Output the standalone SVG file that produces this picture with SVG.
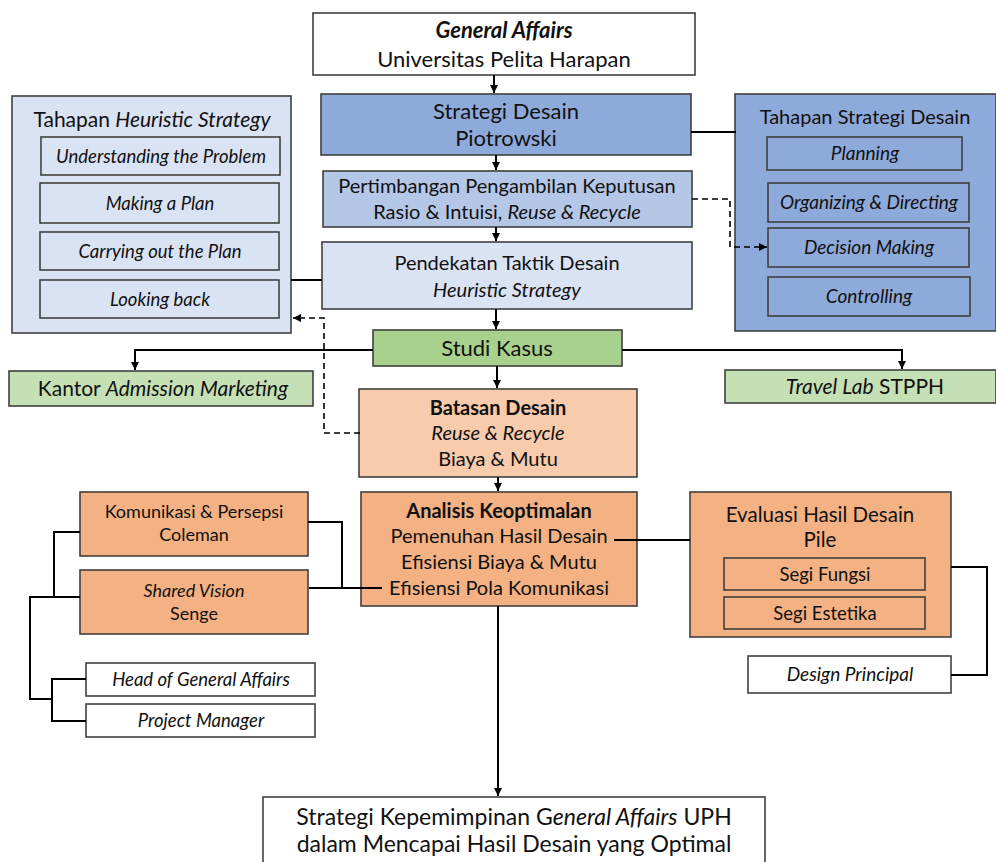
<svg xmlns="http://www.w3.org/2000/svg" width="996" height="862" viewBox="0 0 996 862">
<defs>
<marker id="ah" viewBox="0 0 8 8" refX="8" refY="4" markerWidth="8" markerHeight="8" markerUnits="userSpaceOnUse" orient="auto">
<path d="M0,0 L8,4 L0,8 Z" fill="#000"/>
</marker>
<style>
rect{stroke:#404040;stroke-width:1.6}
text{font-family:Lato,"Open Sans","Liberation Sans",sans-serif;fill:#111;text-anchor:middle}
.i{font-style:italic}.b{font-weight:bold}
.w{fill:#fff}.b1{fill:#8eaadb}.b2{fill:#b4c7e7}.b3{fill:#dae3f3}.g1{fill:#a9d18e}.g2{fill:#c5e0b4}.o1{fill:#f8cbad}.o2{fill:#f4b183}
.ln{fill:none;stroke:#000;stroke-width:2}
.ds{fill:none;stroke:#000;stroke-width:1.6;stroke-dasharray:6,4}
</style>
</defs>

<g id="general-affairs">
<rect class="w" x="313" y="13" width="382" height="62"/>
<text class="i b" font-size="22" x="504" y="38">General Affairs</text>
<text font-size="22" x="504" y="67">Universitas Pelita Harapan</text>
</g>

<g id="strategi-desain">
<rect class="b1" x="321" y="94" width="370" height="61"/>
<text font-size="22" x="506" y="119">Strategi Desain</text>
<text font-size="22" x="506" y="146">Piotrowski</text>
</g>

<g id="pertimbangan">
<rect class="b2" x="323" y="171" width="369" height="56"/>
<text font-size="20" x="507" y="193">Pertimbangan Pengambilan Keputusan</text>
<text font-size="20" x="507" y="219">Rasio &amp; Intuisi, <tspan class="i">Reuse &amp; Recycle</tspan></text>
</g>

<g id="pendekatan">
<rect class="b3" x="322" y="242" width="370" height="67"/>
<text font-size="20" x="507" y="270">Pendekatan Taktik Desain</text>
<text font-size="20" class="i" x="507" y="297">Heuristic Strategy</text>
</g>

<g id="tahapan-heuristic">
<rect class="b3" x="12" y="96" width="279" height="237"/>
<text font-size="21" x="152" y="127">Tahapan <tspan class="i">Heuristic Strategy</tspan></text>
<rect class="b3" x="41" y="137" width="239" height="38"/>
<text font-size="18.5" class="i" x="161" y="163">Understanding the Problem</text>
<rect class="b3" x="40" y="183" width="239" height="40"/>
<text font-size="18.5" class="i" x="160" y="210">Making a Plan</text>
<rect class="b3" x="40" y="232" width="239" height="38"/>
<text font-size="18.5" class="i" x="160" y="258">Carrying out the Plan</text>
<rect class="b3" x="40" y="280" width="239" height="38"/>
<text font-size="18.5" class="i" x="160" y="306">Looking back</text>
</g>

<g id="tahapan-strategi">
<rect class="b1" x="735" y="94" width="261" height="237"/>
<text font-size="20" x="865" y="124">Tahapan Strategi Desain</text>
<rect class="b1" x="767" y="137" width="195" height="33"/>
<text font-size="19" class="i" x="865" y="160">Planning</text>
<rect class="b1" x="768" y="183" width="201" height="39"/>
<text font-size="19" class="i" x="869" y="209">Organizing &amp; Directing</text>
<rect class="b1" x="768" y="228" width="201" height="39"/>
<text font-size="19" class="i" x="869" y="254">Decision Making</text>
<rect class="b1" x="768" y="277" width="202" height="39"/>
<text font-size="19" class="i" x="869" y="303">Controlling</text>
</g>

<g id="studi-kasus">
<rect class="g1" x="373" y="330" width="249" height="36"/>
<text font-size="22" x="497" y="356">Studi Kasus</text>
</g>

<g id="kantor">
<rect class="g2" x="9" y="371" width="304" height="35"/>
<text font-size="21" x="163" y="396">Kantor <tspan class="i">Admission Marketing</tspan></text>
</g>

<g id="travel-lab">
<rect class="g2" x="725" y="370" width="271" height="33"/>
<text font-size="21" x="865" y="394"><tspan class="i">Travel Lab</tspan> STPPH</text>
</g>

<g id="batasan">
<rect class="o1" x="359" y="389" width="278" height="88"/>
<text font-size="20" class="b" x="498" y="415">Batasan Desain</text>
<text font-size="20" class="i" x="498" y="440">Reuse &amp; Recycle</text>
<text font-size="20" x="498" y="466">Biaya &amp; Mutu</text>
</g>

<g id="analisis">
<rect class="o2" x="361" y="492" width="276" height="114"/>
<text font-size="20" class="b" x="499" y="518">Analisis Keoptimalan</text>
<text font-size="20" x="499" y="543">Pemenuhan Hasil Desain</text>
<text font-size="20" x="499" y="569">Efisiensi Biaya &amp; Mutu</text>
<text font-size="20" x="499" y="595">Efisiensi Pola Komunikasi</text>
</g>

<g id="komunikasi">
<rect class="o2" x="80" y="492" width="228" height="64"/>
<text font-size="18" x="194" y="518">Komunikasi &amp; Persepsi</text>
<text font-size="18" x="194" y="541">Coleman</text>
</g>

<g id="shared-vision">
<rect class="o2" x="80" y="570" width="228" height="64"/>
<text font-size="18" class="i" x="194" y="597">Shared Vision</text>
<text font-size="18" x="194" y="620">Senge</text>
</g>

<g id="head-ga">
<rect class="w" x="86" y="663" width="229" height="33"/>
<text font-size="18.5" class="i" x="201" y="686">Head of General Affairs</text>
</g>

<g id="project-manager">
<rect class="w" x="86" y="704" width="229" height="33"/>
<text font-size="18.5" class="i" x="201" y="727">Project Manager</text>
</g>

<g id="evaluasi">
<rect class="o2" x="690" y="492" width="261" height="145"/>
<text font-size="20.5" x="820" y="522">Evaluasi Hasil Desain</text>
<text font-size="20.5" x="820" y="547">Pile</text>
<rect class="o2" x="724" y="558" width="201" height="32"/>
<text font-size="18.5" x="825" y="581">Segi Fungsi</text>
<rect class="o2" x="724" y="597" width="201" height="32"/>
<text font-size="18.5" x="825" y="620">Segi Estetika</text>
</g>

<g id="design-principal">
<rect class="w" x="748" y="656" width="203" height="37"/>
<text font-size="19" class="i" x="850" y="681">Design Principal</text>
</g>

<g id="final">
<rect class="w" x="263" y="797" width="502" height="90"/>
<text font-size="23" x="514" y="825">Strategi Kepemimpinan G<tspan class="i">eneral Affairs</tspan> UPH</text>
<text font-size="23" x="514" y="852">dalam Mencapai Hasil Desain yang Optimal</text>
</g>

<g id="connectors">
<path class="ln" d="M494,75 V93" marker-end="url(#ah)"/>
<path class="ln" d="M496,155 V170" marker-end="url(#ah)"/>
<path class="ln" d="M496,227 V241" marker-end="url(#ah)"/>
<path class="ln" d="M496,309 V329" marker-end="url(#ah)"/>
<path class="ln" d="M497,366 V388" marker-end="url(#ah)"/>
<path class="ln" d="M498,477 V491" marker-end="url(#ah)"/>
<path class="ln" d="M498,606 V796" marker-end="url(#ah)"/>
<path class="ln" d="M291,280 H322"/>
<path class="ln" d="M691,132 H736"/>
<path class="ds" d="M360,433 H324 V318 H293" marker-end="url(#ah)"/>
<path class="ds" d="M692,199 H730 V247 H767" marker-end="url(#ah)"/>
<path class="ln" d="M373,350 H135 V370" marker-end="url(#ah)"/>
<path class="ln" d="M622,350 H902 V369" marker-end="url(#ah)"/>
<path class="ln" d="M308,522 H342 V588"/>
<path class="ln" d="M309,588 H382"/>
<path class="ln" d="M80,532 H54 V597"/>
<path class="ln" d="M80,597 H30 V699 H52"/>
<path class="ln" d="M86,679 H52 V721 H86"/>
<path class="ln" d="M614,540 H690"/>
<path class="ln" d="M951,567 H987 V675 H951"/>
</g>
</svg>
